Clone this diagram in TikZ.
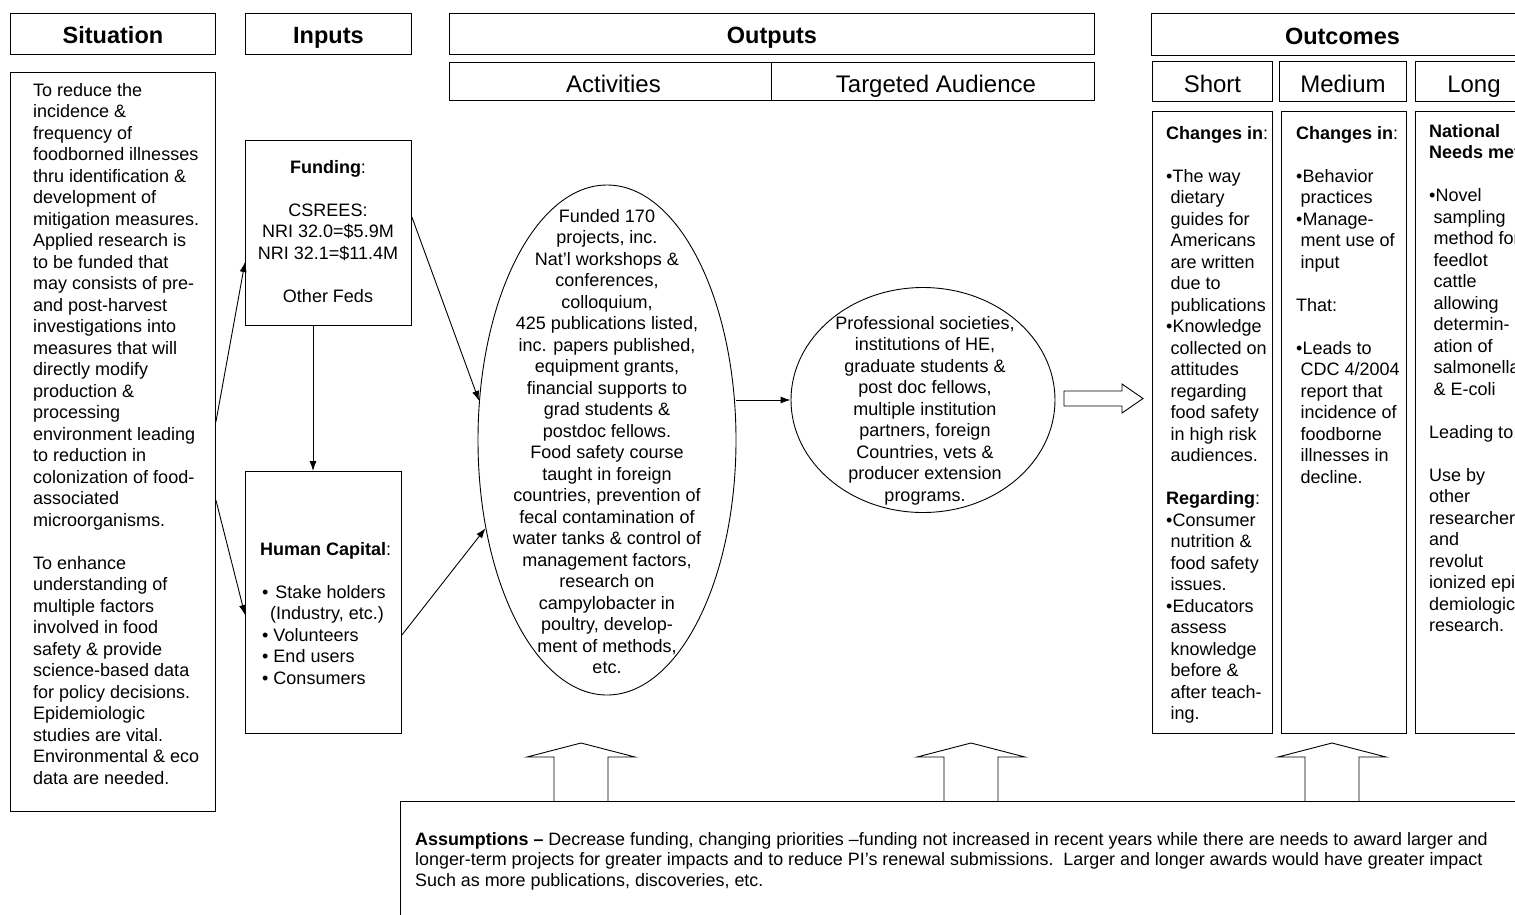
\documentclass[tikz,border=0pt]{standalone}
\usepackage{fontspec}
\setmainfont{Liberation Sans}
\usetikzlibrary{shapes.geometric,arrows.meta,calc}
\begin{document}
\begin{tikzpicture}[x=1pt,y=-1pt,
  box/.style={draw=black, line width=0.9pt, inner sep=0pt, anchor=north west},
  hdr/.style={box, font=\fontsize{23.5}{28}\selectfont\bfseries, text height=19pt, text depth=0pt},
  sub/.style={box, font=\fontsize{24}{28}\selectfont, text height=22pt, text depth=0pt},
  body/.style={font=\fontsize{18}{21.5}\selectfont, inner sep=0pt},
  lefttext/.style={body, anchor=base west},
  ctrtext/.style={body, anchor=base},
  conn/.style={line width=0.9pt, -{Latex[length=10pt,width=7pt]}},
  oval/.style={draw, ellipse, line width=0.9pt, inner sep=0pt},
  blockarrow/.style={draw, line width=0.9pt, line join=miter}
]
\useasboundingbox (0,0) rectangle (1515,914);
\fill[white] (0,0) rectangle (1515,914);
\clip (0,0) rectangle (1515,914);

% headers
\node[hdr, minimum width=205pt, minimum height=41pt] (sithdr) at (10,13) {Situation};
\node[hdr, minimum width=166pt, minimum height=41pt] (inhdr) at (245,13) {Inputs};
\node[hdr, minimum width=645pt, minimum height=41pt] (outhdr) at (449,13) {Outputs};
\node[hdr, minimum width=382pt, minimum height=42pt, text height=20pt] (ochdr) at (1151,13) {Outcomes};

\node[sub, minimum width=322pt, minimum height=38pt] (acthdr) at (449,62) {\hspace{6pt}Activities};
\node[sub, minimum width=323pt, minimum height=38pt] (audhdr) at (771,62) {\hspace{6pt}Targeted Audience};
\node[sub, minimum width=120pt, minimum height=40pt] (shorthdr) at (1152,61) {Short};
\node[sub, minimum width=127pt, minimum height=40pt] (medhdr) at (1279,61) {Medium};
\node[sub, minimum width=117pt, minimum height=40pt] (longhdr) at (1415,61) {Long};

% boxes
\node[box, minimum width=205pt, minimum height=739pt] (sit) at (10,72) {};
\node[box, minimum width=166pt, minimum height=185pt] (fund) at (245,140) {};
\node[box, minimum width=156pt, minimum height=262pt] (hc) at (245,471) {};
\node[box, minimum width=120pt, minimum height=622pt] (shortcol) at (1152,111) {};
\node[box, minimum width=125pt, minimum height=622pt] (medcol) at (1281,111) {};
\node[box, minimum width=120pt, minimum height=622pt] (longcol) at (1415,111) {};
\node[box, minimum width=1130pt, minimum height=140pt] (assume) at (400,801) {};

% ellipses
\node[oval, minimum width=258pt, minimum height=510pt] (act) at (607,440) {};
\node[oval, minimum width=264pt, minimum height=225pt] (aud) at (923,400) {};

% texts
\node[lefttext] (sittxt) at (33,96) {\begin{tabular}[t]{@{}l@{}}
To reduce the\\ incidence \&\\ frequency of\\ foodborned illnesses\\ thru identification \&\\
development of\\ mitigation measures.\\ Applied research is\\ to be funded that\\
may consists of pre-\\ and post-harvest\\ investigations into\\ measures that will\\
directly modify\\ production \&\\ processing\\ environment leading\\ to reduction in\\
colonization of food-\\ associated\\ microorganisms.\\ \\ To enhance\\ understanding of\\
multiple factors\\ involved in food\\ safety \& provide\\ science-based data\\
for policy decisions.\\ Epidemiologic\\ studies are vital.\\ Environmental \& eco\\
data are needed.\end{tabular}};

\node[ctrtext] (fundtxt) at (328,173) {\begin{tabular}[t]{@{}c@{}}
\textbf{Funding}:\\ \\ CSREES:\\ NRI 32.0=\$5.9M\\ NRI 32.1=\$11.4M\\ \\ Other Feds\end{tabular}};

\node[lefttext] (hctxt) at (260,555) {\begin{tabular}[t]{@{}l@{}}
\textbf{Human Capital}:\\ \\ \hspace{2pt}•\hspace{7pt}Stake holders\\ \hspace{10pt}(Industry, etc.)\\
\hspace{2pt}• Volunteers\\ \hspace{2pt}• End users\\ \hspace{2pt}• Consumers\end{tabular}};

\node[ctrtext] (acttxt) at (607,222) {\begin{tabular}[t]{@{}c@{}}
Funded 170\\ projects, inc.\\ Nat’l workshops \&\\ conferences,\\ colloquium,\\
425 publications listed,\\ inc. papers published,\\ equipment grants,\\
financial supports to\\ grad students \&\\ postdoc fellows.\\ Food safety course\\
taught in foreign\\ countries, prevention of\\ fecal contamination of\\
water tanks \& control of\\ management factors,\\ research on\\ campylobacter in\\
poultry, develop-\\ ment of methods,\\ etc.\end{tabular}};

\node[ctrtext] (audtxt) at (925,329) {\begin{tabular}[t]{@{}c@{}}
Professional societies,\\ institutions of HE,\\ graduate students \&\\ post doc fellows,\\
multiple institution\\ partners, foreign\\ Countries, vets \&\\ producer extension\\
programs.\end{tabular}};

\node[lefttext] (shorttxt) at (1166,139) {\begin{tabular}[t]{@{}l@{}}
\textbf{Changes in}:\\ \\ •The way\\ \hspace{4.5pt}dietary\\ \hspace{4.5pt}guides for\\
\hspace{4.5pt}Americans\\ \hspace{4.5pt}are written\\ \hspace{4.5pt}due to\\
\hspace{4.5pt}publications\\ •Knowledge\\ \hspace{4.5pt}collected on\\
\hspace{4.5pt}attitudes\\ \hspace{4.5pt}regarding\\ \hspace{4.5pt}food safety\\
\hspace{4.5pt}in high risk\\ \hspace{4.5pt}audiences.\\ \\ \textbf{Regarding}:\\
•Consumer\\ \hspace{4.5pt}nutrition \&\\ \hspace{4.5pt}food safety\\ \hspace{4.5pt}issues.\\
•Educators\\ \hspace{4.5pt}assess\\ \hspace{4.5pt}knowledge\\ \hspace{4.5pt}before \&\\
\hspace{4.5pt}after teach-\\ \hspace{4.5pt}ing.\end{tabular}};

\node[lefttext] (medtxt) at (1296,139) {\begin{tabular}[t]{@{}l@{}}
\textbf{Changes in}:\\ \\ •Behavior\\ \hspace{4.5pt}practices\\ •Manage-\\
\hspace{4.5pt}ment use of\\ \hspace{4.5pt}input\\ \\ That:\\ \\ •Leads to\\
\hspace{4.5pt}CDC 4/2004\\ \hspace{4.5pt}report that\\ \hspace{4.5pt}incidence of\\
\hspace{4.5pt}foodborne\\ \hspace{4.5pt}illnesses in\\ \hspace{4.5pt}decline.\end{tabular}};

\node[lefttext] (longtxt) at (1429,137) {\begin{tabular}[t]{@{}l@{}}
\textbf{National}\\ \textbf{Needs met}\\ \\ •Novel\\ \hspace{4.5pt}sampling\\
\hspace{4.5pt}method for\\ \hspace{4.5pt}feedlot\\ \hspace{4.5pt}cattle\\ \hspace{4.5pt}allowing\\
\hspace{4.5pt}determin-\\ \hspace{4.5pt}ation of\\ \hspace{4.5pt}salmonella\\ \hspace{4.5pt}\& E-coli\\
\\ Leading to:\\ \\ Use by\\ other\\ researchers\\ and\\ revolut\\ ionized epi-\\
demiologic\\ research.\end{tabular}};

\node[anchor=base west, inner sep=0pt, font=\fontsize{17.9}{20.5}\selectfont] (assumetxt) at (415,845) {\begin{tabular}[t]{@{}l@{}}
\textbf{Assumptions –} Decrease funding, changing priorities –funding not increased in recent years while there are needs to award larger and\\
longer-term projects for greater impacts and to reduce PI’s renewal submissions.\ \ Larger and longer awards would have greater impact\\
Such as more publications, discoveries, etc.\end{tabular}};

% connectors
\draw[conn] ($(sit.north east)+(0,350)$) -- ($(fund.north west)+(0,122)$);
\draw[conn] ($(sit.north east)+(0,428)$) -- ($(hc.north west)+(0,144)$);
\draw[conn] ($(fund.south west)+(68,0)$) -- ($(hc.north west)+(68,0)$);
\draw[conn] ($(fund.north east)+(0,77)$) -- (act.163.4);
\draw[conn] ($(hc.north east)+(0,164)$) -- (act.216.7);
\draw[conn] (act.east |- aud.west) -- (aud.west);

% block arrows
\draw[blockarrow] (1064,391) -- (1122,391) -- (1122,384) -- (1143,398.5) -- (1122,413) -- (1122,406) -- (1064,406) -- cycle;
\foreach \cx in {581,971,1332}{
  \draw[blockarrow] (\cx-27,801) -- (\cx-27,757) -- (\cx-54,757) -- (\cx,743) -- (\cx+54,757) -- (\cx+27,757) -- (\cx+27,801);
}
\end{tikzpicture}
\end{document}
